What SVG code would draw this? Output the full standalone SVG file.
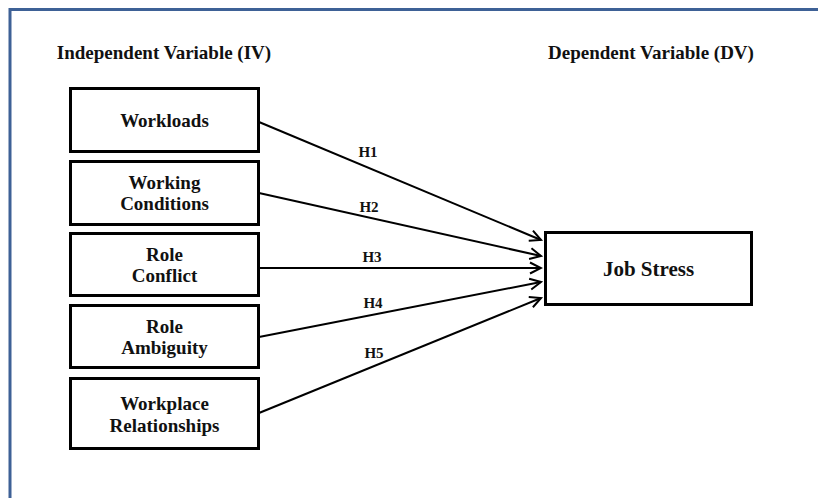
<svg xmlns="http://www.w3.org/2000/svg" width="818" height="498" viewBox="0 0 818 498">
<style>
.frame{fill:none;stroke:#3e6196;stroke-width:3}
.box{fill:#fff;stroke:#000;stroke-width:3}
.t{font-family:"Liberation Serif","Times New Roman",serif;font-weight:bold;font-size:19px;fill:#111;text-anchor:middle}
.h{font-size:15px}
.js{font-size:21px}
.c{fill:none;stroke:#000;stroke-width:2}
</style>
<defs>
<marker id="arr" markerUnits="userSpaceOnUse" markerWidth="14" markerHeight="14" refX="12" refY="6" orient="auto" viewBox="0 0 14 12">
<path d="M1,0.5 L12,6 L1,11.5" fill="none" stroke="#000" stroke-width="2"/>
</marker>
</defs>
<rect width="818" height="498" fill="#fff"/>
<path class="frame" d="M10,498 V9.5 H818"/>
<text class="t" x="164" y="59">Independent Variable  (IV)</text>
<text class="t" x="651" y="59">Dependent Variable  (DV)</text>
<g id="connectors">
<line class="c" x1="259" y1="122" x2="541" y2="240" marker-end="url(#arr)"/>
<line class="c" x1="259" y1="193" x2="541" y2="256" marker-end="url(#arr)"/>
<line class="c" x1="259" y1="268" x2="541" y2="268" marker-end="url(#arr)"/>
<line class="c" x1="259" y1="337" x2="541" y2="282" marker-end="url(#arr)"/>
<line class="c" x1="259" y1="413" x2="541" y2="298" marker-end="url(#arr)"/>
<text class="t h" x="368" y="157">H1</text>
<text class="t h" x="369" y="212">H2</text>
<text class="t h" x="372" y="262">H3</text>
<text class="t h" x="373" y="308">H4</text>
<text class="t h" x="374" y="358">H5</text>
</g>
<g id="workloads">
<rect class="box" x="70.5" y="88.5" width="188" height="63"/>
<text class="t" x="164.5" y="127">Workloads</text>
</g>
<g id="working-conditions">
<rect class="box" x="70.5" y="161.5" width="188" height="63"/>
<text class="t" x="164.5" y="189">Working</text>
<text class="t" x="164.5" y="210">Conditions</text>
</g>
<g id="role-conflict">
<rect class="box" x="70.5" y="233.5" width="188" height="62"/>
<text class="t" x="164.5" y="261">Role</text>
<text class="t" x="164.5" y="282">Conflict</text>
</g>
<g id="role-ambiguity">
<rect class="box" x="70.5" y="305.5" width="188" height="62"/>
<text class="t" x="164.5" y="333">Role</text>
<text class="t" x="164.5" y="354">Ambiguity</text>
</g>
<g id="workplace-relationships">
<rect class="box" x="70.5" y="378.5" width="188" height="70"/>
<text class="t" x="164.5" y="410">Workplace</text>
<text class="t" x="164.5" y="432">Relationships</text>
</g>
<g id="job-stress">
<rect class="box" x="545.5" y="232.5" width="206" height="72"/>
<text class="t js" x="648.5" y="276">Job Stress</text>
</g>
</svg>
